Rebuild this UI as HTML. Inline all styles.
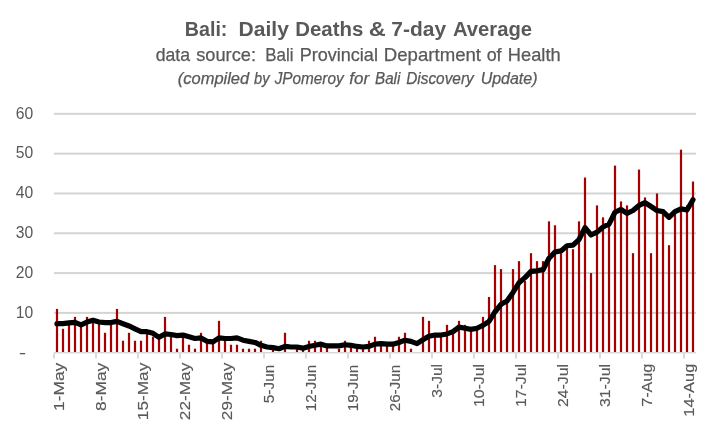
<!DOCTYPE html>
<html><head><meta charset="utf-8">
<style>
html,body{margin:0;padding:0;background:#fff;}
body{width:717px;height:432px;overflow:hidden;}
svg{display:block;will-change:transform;}
text{font-family:"Liberation Sans", sans-serif;fill:#595959;}
.ax{font-size:15.4px;stroke:#595959;stroke-width:0.15px;}
.ay{font-size:15.7px;}
.t1{font-size:20.7px;font-weight:bold;}
.t2{font-size:17.8px;stroke:#595959;stroke-width:0.25px;}
.t3{font-size:15.6px;font-style:italic;stroke:#595959;stroke-width:0.25px;}
</style></head>
<body>
<svg width="717" height="432" viewBox="0 0 717 432">
<rect width="717" height="432" fill="#fff"/>
<text x="184.78" y="35.60" class="t1" textLength="42.64" lengthAdjust="spacingAndGlyphs">Bali:</text>
<text x="238.56" y="35.60" class="t1" textLength="50.29" lengthAdjust="spacingAndGlyphs">Daily</text>
<text x="295.27" y="35.60" class="t1" textLength="68.06" lengthAdjust="spacingAndGlyphs">Deaths</text>
<text x="368.89" y="35.60" class="t1" textLength="17.07" lengthAdjust="spacingAndGlyphs">&amp;</text>
<text x="391.36" y="35.60" class="t1" textLength="54.79" lengthAdjust="spacingAndGlyphs">7-day</text>
<text x="452.99" y="35.60" class="t1" textLength="79.15" lengthAdjust="spacingAndGlyphs">Average</text>
<text x="155.67" y="60.80" class="t2" textLength="34.33" lengthAdjust="spacingAndGlyphs">data</text>
<text x="196.23" y="60.80" class="t2" textLength="59.75" lengthAdjust="spacingAndGlyphs">source:</text>
<text x="265.33" y="60.80" class="t2" textLength="28.20" lengthAdjust="spacingAndGlyphs">Bali</text>
<text x="299.65" y="60.80" class="t2" textLength="78.30" lengthAdjust="spacingAndGlyphs">Provincial</text>
<text x="383.87" y="60.80" class="t2" textLength="97.13" lengthAdjust="spacingAndGlyphs">Department</text>
<text x="486.66" y="60.80" class="t2" textLength="14.96" lengthAdjust="spacingAndGlyphs">of</text>
<text x="507.82" y="60.80" class="t2" textLength="52.83" lengthAdjust="spacingAndGlyphs">Health</text>
<text x="177.76" y="83.50" class="t3" textLength="71.47" lengthAdjust="spacingAndGlyphs">(compiled</text>
<text x="254.00" y="83.50" class="t3" textLength="15.51" lengthAdjust="spacingAndGlyphs">by</text>
<text x="274.68" y="83.50" class="t3" textLength="68.97" lengthAdjust="spacingAndGlyphs">JPomeroy</text>
<text x="349.27" y="83.50" class="t3" textLength="19.80" lengthAdjust="spacingAndGlyphs">for</text>
<text x="375.00" y="83.50" class="t3" textLength="25.33" lengthAdjust="spacingAndGlyphs">Bali</text>
<text x="406.17" y="83.50" class="t3" textLength="67.56" lengthAdjust="spacingAndGlyphs">Discovery</text>
<text x="480.67" y="83.50" class="t3" textLength="56.87" lengthAdjust="spacingAndGlyphs">Update)</text>
<rect x="54.0" y="311.89" width="642.0" height="2.0" fill="#d4d4d4"/>
<rect x="54.0" y="272.08" width="642.0" height="2.0" fill="#d4d4d4"/>
<rect x="54.0" y="232.27" width="642.0" height="2.0" fill="#d4d4d4"/>
<rect x="54.0" y="192.46" width="642.0" height="2.0" fill="#d4d4d4"/>
<rect x="54.0" y="152.65" width="642.0" height="2.0" fill="#d4d4d4"/>
<rect x="54.0" y="112.84" width="642.0" height="2.0" fill="#d4d4d4"/>
<rect x="55.90" y="308.91" width="2.2" height="43.79" fill="#a80000"/>
<rect x="61.90" y="328.81" width="2.2" height="23.89" fill="#a80000"/>
<rect x="67.90" y="324.83" width="2.2" height="27.87" fill="#a80000"/>
<rect x="73.90" y="316.87" width="2.2" height="35.83" fill="#a80000"/>
<rect x="79.90" y="324.83" width="2.2" height="27.87" fill="#a80000"/>
<rect x="85.90" y="316.87" width="2.2" height="35.83" fill="#a80000"/>
<rect x="91.90" y="320.85" width="2.2" height="31.85" fill="#a80000"/>
<rect x="97.90" y="320.85" width="2.2" height="31.85" fill="#a80000"/>
<rect x="103.90" y="332.79" width="2.2" height="19.91" fill="#a80000"/>
<rect x="109.90" y="324.83" width="2.2" height="27.87" fill="#a80000"/>
<rect x="115.90" y="308.91" width="2.2" height="43.79" fill="#a80000"/>
<rect x="121.90" y="340.76" width="2.2" height="11.94" fill="#a80000"/>
<rect x="127.90" y="332.79" width="2.2" height="19.91" fill="#a80000"/>
<rect x="133.90" y="340.76" width="2.2" height="11.94" fill="#a80000"/>
<rect x="139.90" y="340.76" width="2.2" height="11.94" fill="#a80000"/>
<rect x="145.90" y="332.79" width="2.2" height="19.91" fill="#a80000"/>
<rect x="151.90" y="336.78" width="2.2" height="15.92" fill="#a80000"/>
<rect x="157.90" y="336.78" width="2.2" height="15.92" fill="#a80000"/>
<rect x="163.90" y="316.87" width="2.2" height="35.83" fill="#a80000"/>
<rect x="169.90" y="336.78" width="2.2" height="15.92" fill="#a80000"/>
<rect x="175.90" y="348.72" width="2.2" height="3.98" fill="#a80000"/>
<rect x="181.90" y="336.78" width="2.2" height="15.92" fill="#a80000"/>
<rect x="187.90" y="344.74" width="2.2" height="7.96" fill="#a80000"/>
<rect x="193.90" y="348.72" width="2.2" height="3.98" fill="#a80000"/>
<rect x="199.90" y="332.79" width="2.2" height="19.91" fill="#a80000"/>
<rect x="205.90" y="340.76" width="2.2" height="11.94" fill="#a80000"/>
<rect x="211.90" y="340.76" width="2.2" height="11.94" fill="#a80000"/>
<rect x="217.90" y="320.85" width="2.2" height="31.85" fill="#a80000"/>
<rect x="223.90" y="340.76" width="2.2" height="11.94" fill="#a80000"/>
<rect x="229.90" y="344.74" width="2.2" height="7.96" fill="#a80000"/>
<rect x="235.90" y="344.74" width="2.2" height="7.96" fill="#a80000"/>
<rect x="241.90" y="348.72" width="2.2" height="3.98" fill="#a80000"/>
<rect x="247.90" y="348.72" width="2.2" height="3.98" fill="#a80000"/>
<rect x="253.90" y="348.72" width="2.2" height="3.98" fill="#a80000"/>
<rect x="259.90" y="340.76" width="2.2" height="11.94" fill="#a80000"/>
<rect x="271.90" y="348.72" width="2.2" height="3.98" fill="#a80000"/>
<rect x="283.90" y="332.79" width="2.2" height="19.91" fill="#a80000"/>
<rect x="295.90" y="348.72" width="2.2" height="3.98" fill="#a80000"/>
<rect x="301.90" y="348.72" width="2.2" height="3.98" fill="#a80000"/>
<rect x="307.90" y="340.76" width="2.2" height="11.94" fill="#a80000"/>
<rect x="313.90" y="340.76" width="2.2" height="11.94" fill="#a80000"/>
<rect x="319.90" y="344.74" width="2.2" height="7.96" fill="#a80000"/>
<rect x="325.90" y="344.74" width="2.2" height="7.96" fill="#a80000"/>
<rect x="337.90" y="348.72" width="2.2" height="3.98" fill="#a80000"/>
<rect x="343.90" y="340.76" width="2.2" height="11.94" fill="#a80000"/>
<rect x="349.90" y="344.74" width="2.2" height="7.96" fill="#a80000"/>
<rect x="355.90" y="348.72" width="2.2" height="3.98" fill="#a80000"/>
<rect x="361.90" y="348.72" width="2.2" height="3.98" fill="#a80000"/>
<rect x="367.90" y="340.76" width="2.2" height="11.94" fill="#a80000"/>
<rect x="373.90" y="336.78" width="2.2" height="15.92" fill="#a80000"/>
<rect x="379.90" y="344.74" width="2.2" height="7.96" fill="#a80000"/>
<rect x="385.90" y="344.74" width="2.2" height="7.96" fill="#a80000"/>
<rect x="391.90" y="344.74" width="2.2" height="7.96" fill="#a80000"/>
<rect x="397.90" y="336.78" width="2.2" height="15.92" fill="#a80000"/>
<rect x="403.90" y="332.79" width="2.2" height="19.91" fill="#a80000"/>
<rect x="409.90" y="348.72" width="2.2" height="3.98" fill="#a80000"/>
<rect x="421.90" y="316.87" width="2.2" height="35.83" fill="#a80000"/>
<rect x="427.90" y="320.85" width="2.2" height="31.85" fill="#a80000"/>
<rect x="433.90" y="336.78" width="2.2" height="15.92" fill="#a80000"/>
<rect x="439.90" y="336.78" width="2.2" height="15.92" fill="#a80000"/>
<rect x="445.90" y="324.83" width="2.2" height="27.87" fill="#a80000"/>
<rect x="451.90" y="332.79" width="2.2" height="19.91" fill="#a80000"/>
<rect x="457.90" y="320.85" width="2.2" height="31.85" fill="#a80000"/>
<rect x="463.90" y="324.83" width="2.2" height="27.87" fill="#a80000"/>
<rect x="469.90" y="328.81" width="2.2" height="23.89" fill="#a80000"/>
<rect x="475.90" y="328.81" width="2.2" height="23.89" fill="#a80000"/>
<rect x="481.90" y="316.87" width="2.2" height="35.83" fill="#a80000"/>
<rect x="487.90" y="296.97" width="2.2" height="55.73" fill="#a80000"/>
<rect x="493.90" y="265.12" width="2.2" height="87.58" fill="#a80000"/>
<rect x="499.90" y="269.10" width="2.2" height="83.60" fill="#a80000"/>
<rect x="505.90" y="300.95" width="2.2" height="51.75" fill="#a80000"/>
<rect x="511.90" y="269.10" width="2.2" height="83.60" fill="#a80000"/>
<rect x="517.90" y="261.14" width="2.2" height="91.56" fill="#a80000"/>
<rect x="523.90" y="281.04" width="2.2" height="71.66" fill="#a80000"/>
<rect x="529.90" y="253.18" width="2.2" height="99.52" fill="#a80000"/>
<rect x="535.90" y="261.14" width="2.2" height="91.56" fill="#a80000"/>
<rect x="541.90" y="261.14" width="2.2" height="91.56" fill="#a80000"/>
<rect x="547.90" y="221.33" width="2.2" height="131.37" fill="#a80000"/>
<rect x="553.90" y="225.31" width="2.2" height="127.39" fill="#a80000"/>
<rect x="559.90" y="253.18" width="2.2" height="99.52" fill="#a80000"/>
<rect x="565.90" y="245.21" width="2.2" height="107.49" fill="#a80000"/>
<rect x="571.90" y="249.19" width="2.2" height="103.51" fill="#a80000"/>
<rect x="577.90" y="221.33" width="2.2" height="131.37" fill="#a80000"/>
<rect x="583.90" y="177.54" width="2.2" height="175.16" fill="#a80000"/>
<rect x="589.90" y="273.08" width="2.2" height="79.62" fill="#a80000"/>
<rect x="595.90" y="205.40" width="2.2" height="147.30" fill="#a80000"/>
<rect x="601.90" y="217.35" width="2.2" height="135.35" fill="#a80000"/>
<rect x="607.90" y="225.31" width="2.2" height="127.39" fill="#a80000"/>
<rect x="613.90" y="165.59" width="2.2" height="187.11" fill="#a80000"/>
<rect x="619.90" y="201.42" width="2.2" height="151.28" fill="#a80000"/>
<rect x="625.90" y="205.40" width="2.2" height="147.30" fill="#a80000"/>
<rect x="631.90" y="253.18" width="2.2" height="99.52" fill="#a80000"/>
<rect x="637.90" y="169.57" width="2.2" height="183.13" fill="#a80000"/>
<rect x="643.90" y="197.44" width="2.2" height="155.26" fill="#a80000"/>
<rect x="649.90" y="253.18" width="2.2" height="99.52" fill="#a80000"/>
<rect x="655.90" y="193.46" width="2.2" height="159.24" fill="#a80000"/>
<rect x="661.90" y="209.38" width="2.2" height="143.32" fill="#a80000"/>
<rect x="667.90" y="245.21" width="2.2" height="107.49" fill="#a80000"/>
<rect x="673.90" y="213.36" width="2.2" height="139.34" fill="#a80000"/>
<rect x="679.90" y="149.67" width="2.2" height="203.03" fill="#a80000"/>
<rect x="685.90" y="205.40" width="2.2" height="147.30" fill="#a80000"/>
<rect x="691.90" y="181.52" width="2.2" height="171.18" fill="#a80000"/>
<rect x="54.0" y="352.0" width="642" height="1.4" fill="#d6d6d6"/>
<rect x="53.10" y="353.4" width="1.8" height="5.2" fill="#d6d6d6"/>
<rect x="95.10" y="353.4" width="1.8" height="5.2" fill="#d6d6d6"/>
<rect x="137.10" y="353.4" width="1.8" height="5.2" fill="#d6d6d6"/>
<rect x="179.10" y="353.4" width="1.8" height="5.2" fill="#d6d6d6"/>
<rect x="221.10" y="353.4" width="1.8" height="5.2" fill="#d6d6d6"/>
<rect x="263.10" y="353.4" width="1.8" height="5.2" fill="#d6d6d6"/>
<rect x="305.10" y="353.4" width="1.8" height="5.2" fill="#d6d6d6"/>
<rect x="347.10" y="353.4" width="1.8" height="5.2" fill="#d6d6d6"/>
<rect x="389.10" y="353.4" width="1.8" height="5.2" fill="#d6d6d6"/>
<rect x="431.10" y="353.4" width="1.8" height="5.2" fill="#d6d6d6"/>
<rect x="473.10" y="353.4" width="1.8" height="5.2" fill="#d6d6d6"/>
<rect x="515.10" y="353.4" width="1.8" height="5.2" fill="#d6d6d6"/>
<rect x="557.10" y="353.4" width="1.8" height="5.2" fill="#d6d6d6"/>
<rect x="599.10" y="353.4" width="1.8" height="5.2" fill="#d6d6d6"/>
<rect x="641.10" y="353.4" width="1.8" height="5.2" fill="#d6d6d6"/>
<rect x="683.10" y="353.4" width="1.8" height="5.2" fill="#d6d6d6"/>
<polyline points="57.00,323.64 63.00,323.64 69.00,322.84 75.00,322.44 81.00,324.83 87.00,322.05 93.00,320.28 99.00,321.99 105.00,322.56 111.00,322.56 117.00,321.42 123.00,323.70 129.00,325.97 135.00,328.81 141.00,331.66 147.00,331.66 153.00,333.36 159.00,337.34 165.00,333.93 171.00,334.50 177.00,335.64 183.00,335.07 189.00,336.78 195.00,338.48 201.00,337.91 207.00,341.33 213.00,341.89 219.00,337.91 225.00,338.48 231.00,338.48 237.00,337.91 243.00,340.19 249.00,341.33 255.00,342.46 261.00,345.31 267.00,347.01 273.00,347.58 279.00,348.72 285.00,346.44 291.00,347.01 297.00,347.01 303.00,348.15 309.00,346.44 315.00,345.31 321.00,344.17 327.00,345.88 333.00,345.88 339.00,345.88 345.00,344.74 351.00,345.31 357.00,346.44 363.00,347.01 369.00,346.44 375.00,344.17 381.00,343.60 387.00,344.17 393.00,344.17 399.00,342.46 405.00,340.19 411.00,341.33 417.00,343.60 423.00,339.62 429.00,336.21 435.00,335.07 441.00,335.07 447.00,333.93 453.00,331.66 459.00,327.11 465.00,328.25 471.00,329.38 477.00,328.25 483.00,325.40 489.00,321.42 495.00,311.75 501.00,304.36 507.00,300.95 513.00,292.42 519.00,282.75 525.00,277.63 531.00,271.37 537.00,270.81 543.00,269.67 549.00,258.29 555.00,252.04 561.00,250.90 567.00,245.78 573.00,245.21 579.00,239.53 585.00,227.58 591.00,234.98 597.00,232.13 603.00,227.01 609.00,224.17 615.00,212.23 621.00,209.38 627.00,213.36 633.00,210.52 639.00,205.40 645.00,202.56 651.00,206.54 657.00,210.52 663.00,211.66 669.00,217.35 675.00,211.66 681.00,208.82 687.00,209.95 693.00,199.72" fill="none" stroke="#000" stroke-width="5.2" stroke-linejoin="round" stroke-linecap="round"/>
<text x="33.2" y="317.69" text-anchor="end" class="ay">10</text>
<text x="33.2" y="277.88" text-anchor="end" class="ay">20</text>
<text x="33.2" y="238.07" text-anchor="end" class="ay">30</text>
<text x="33.2" y="198.26" text-anchor="end" class="ay">40</text>
<text x="33.2" y="158.45" text-anchor="end" class="ay">50</text>
<text x="33.2" y="118.64" text-anchor="end" class="ay">60</text>
<rect x="19.8" y="353.00" width="5.4" height="1.3" fill="#595959"/>
<text transform="translate(63.50,362.70) rotate(-90)" text-anchor="end" class="ax" textLength="48.30" lengthAdjust="spacingAndGlyphs">1-May</text>
<text transform="translate(105.50,362.70) rotate(-90)" text-anchor="end" class="ax" textLength="48.30" lengthAdjust="spacingAndGlyphs">8-May</text>
<text transform="translate(147.50,362.70) rotate(-90)" text-anchor="end" class="ax" textLength="57.50" lengthAdjust="spacingAndGlyphs">15-May</text>
<text transform="translate(189.50,362.70) rotate(-90)" text-anchor="end" class="ax" textLength="57.50" lengthAdjust="spacingAndGlyphs">22-May</text>
<text transform="translate(231.50,362.70) rotate(-90)" text-anchor="end" class="ax" textLength="57.50" lengthAdjust="spacingAndGlyphs">29-May</text>
<text transform="translate(273.50,364.80) rotate(-90)" text-anchor="end" class="ax" textLength="38.40" lengthAdjust="spacingAndGlyphs">5-Jun</text>
<text transform="translate(315.50,364.80) rotate(-90)" text-anchor="end" class="ax" textLength="46.50" lengthAdjust="spacingAndGlyphs">12-Jun</text>
<text transform="translate(357.50,364.80) rotate(-90)" text-anchor="end" class="ax" textLength="46.50" lengthAdjust="spacingAndGlyphs">19-Jun</text>
<text transform="translate(399.50,364.80) rotate(-90)" text-anchor="end" class="ax" textLength="46.50" lengthAdjust="spacingAndGlyphs">26-Jun</text>
<text transform="translate(441.50,364.00) rotate(-90)" text-anchor="end" class="ax" textLength="33.70" lengthAdjust="spacingAndGlyphs">3-Jul</text>
<text transform="translate(483.50,364.00) rotate(-90)" text-anchor="end" class="ax" textLength="43.00" lengthAdjust="spacingAndGlyphs">10-Jul</text>
<text transform="translate(525.50,364.00) rotate(-90)" text-anchor="end" class="ax" textLength="43.00" lengthAdjust="spacingAndGlyphs">17-Jul</text>
<text transform="translate(567.50,364.00) rotate(-90)" text-anchor="end" class="ax" textLength="43.00" lengthAdjust="spacingAndGlyphs">24-Jul</text>
<text transform="translate(609.50,364.00) rotate(-90)" text-anchor="end" class="ax" textLength="43.00" lengthAdjust="spacingAndGlyphs">31-Jul</text>
<text transform="translate(651.50,363.70) rotate(-90)" text-anchor="end" class="ax" textLength="43.00" lengthAdjust="spacingAndGlyphs">7-Aug</text>
<text transform="translate(693.50,363.70) rotate(-90)" text-anchor="end" class="ax" textLength="53.00" lengthAdjust="spacingAndGlyphs">14-Aug</text>
</svg>
</body></html>
